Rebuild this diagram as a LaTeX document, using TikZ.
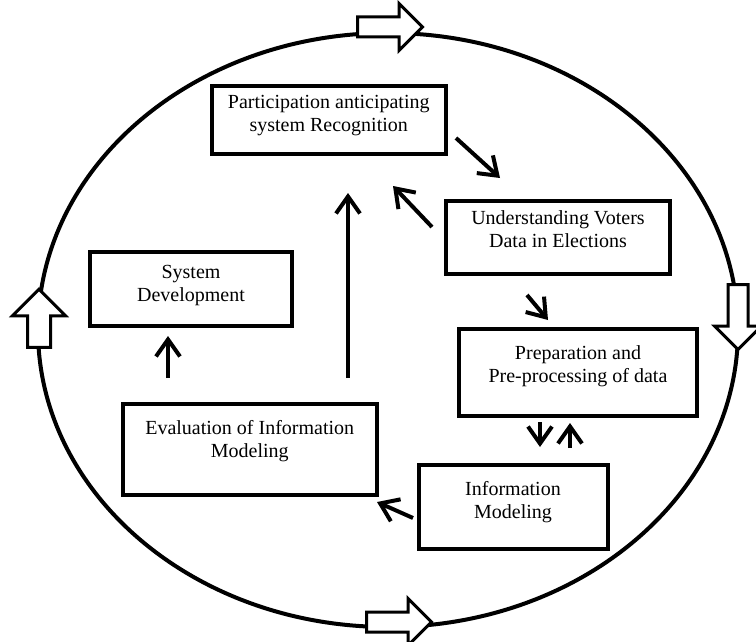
\documentclass[tikz,border=0pt]{standalone}
\usepackage{fontspec}
\setmainfont{Liberation Serif}
\usetikzlibrary{arrows.meta, shapes.arrows}

% box text: width, height, gap on top, lines
\newcommand{\boxtxt}[4]{\parbox[c][#2][t]{#1}{\centering\vspace*{#3}#4}}

\begin{document}
\begin{tikzpicture}[x=1pt, y=-1pt, >={Straight Barb[length=17pt,width=24pt]},
  font=\fontsize{20}{23}\selectfont,
  stepbox/.style={draw, line width=4pt, inner sep=0pt, anchor=north west},
  flow/.style={->, line width=4pt},
  cycarrow/.style={single arrow, draw, fill=white, line width=3pt, inner xsep=0pt,
    inner ysep=8.5pt, single arrow head extend=13.5pt, minimum height=65pt}]

  \useasboundingbox (0,0) rectangle (756,642);

% the cycle round everything
  \draw[line width=4pt] (388,330) ellipse [x radius=350pt, y radius=297pt];
  \node[cycarrow]            (cyctop)   at (385,27)  {};
  \node[cycarrow, rotate=-90] (cycright) at (738,312) {};
  \node[cycarrow]            (cycbot)   at (394,622) {};
  \node[cycarrow, rotate=90, inner ysep=10pt, single arrow head extend=15pt, minimum height=58pt]
                             (cycleft)  at (39,324)  {};

% define the steps
  \node[stepbox] (prtc) at (209.5,84)
{\boxtxt{234.5pt}{68pt}{9.5pt}{Participation anticipating\\system Recognition}};
  \node[stepbox] (undr) at (444,199)
{\boxtxt{224pt}{72.5pt}{9.5pt}{Understanding Voters\\Data in Elections}};
  \node[stepbox] (prep) at (457,327)
{\boxtxt{238pt}{86.5pt}{16.5pt}{Preparation and\\Pre-processing of data}};
  \node[stepbox] (info) at (416.5,463)
{\boxtxt{189pt}{84pt}{16.5pt}{Information\\Modeling}};
  \node[stepbox] (eval) at (120.5,402)
{\boxtxt{254.5pt}{91pt}{16.5pt}{Evaluation of Information\\Modeling}};
  \node[stepbox] (sysd) at (88,250)
{\boxtxt{202pt}{74pt}{13.5pt}{System\\Development}};

% ends of the links
  \coordinate (prtc-out) at (456,138);  \coordinate (undr-in) at (500,178);
  \coordinate (undr-back) at (432,227); \coordinate (prtc-back) at (393,186);
  \coordinate (eval-up) at (348,378);   \coordinate (prtc-in) at (348,193);
  \coordinate (undr-out) at (527,295);  \coordinate (prep-in) at (548,320);
  \coordinate (prep-out) at (540,422);  \coordinate (info-in) at (540,447);
  \coordinate (info-back) at (570,448); \coordinate (prep-back) at (570,423);
  \coordinate (info-out) at (413,518);  \coordinate (eval-in) at (377,502);
  \coordinate (eval-out) at (168,378);  \coordinate (sysd-in) at (168,336);

% define the links
  \draw[flow] (prtc-out) -- (undr-in);
  \draw[flow] (undr-back) -- (prtc-back);
  \draw[flow] (eval-up) -- (prtc-in);
  \draw[flow] (undr-out) -- (prep-in);
  \draw[flow] (prep-out) -- (info-in);
  \draw[flow] (info-back) -- (prep-back);
  \draw[flow] (info-out) -- (eval-in);
  \draw[flow] (eval-out) -- (sysd-in);

\end{tikzpicture}
\end{document}
